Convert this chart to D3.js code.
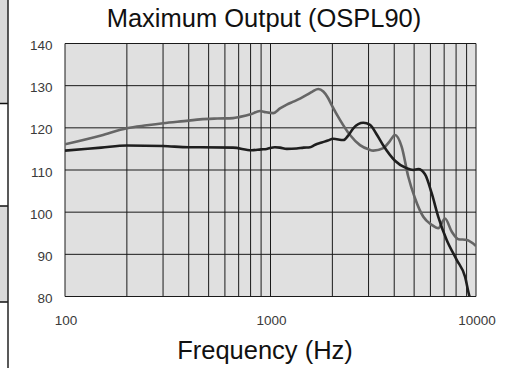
<!DOCTYPE html>
<html><head><meta charset="utf-8">
<script src="https://cdn.jsdelivr.net/npm/d3@7"></script>
<style>body{margin:0;background:#fff}svg{display:block}</style>
</head><body>
<script>
// Data
const grayFreq = [100,150,200,250,300,400,454,550,657,710,800,889,950,1032,1112,1200,1291,1400,1500,1600,1708,1807,1900,1985,2178,2437,2726,3000,3164,3540,3800,4035,4350,4683,5049,5540,6086,6553,7065,7616,8201,9012,10000];
const grayVals = [116.1,118.2,119.9,120.6,121.1,121.7,122.0,122.2,122.3,122.6,123.2,124.0,123.7,123.5,124.6,125.5,126.2,127.0,127.8,128.6,129.2,128.6,127.2,125.4,121.9,118.3,115.9,114.9,114.6,115.2,116.8,118.3,115.5,108.4,103.3,98.9,97.0,96.2,98.5,95.4,93.6,93.4,92.0];
const blackFreq = [100,150,200,300,400,454,657,810,900,958,1050,1112,1200,1341,1450,1557,1650,1775,1900,2020,2261,2400,2528,2829,3050,3300,3540,4035,4600,4953,5238,5646,6086,6553,7200,8055,8843,9300,9600];
const blackVals = [114.6,115.3,115.8,115.7,115.4,115.4,115.3,114.7,114.9,115.0,115.4,115.3,115.0,115.1,115.3,115.4,116.0,116.5,117.0,117.4,117.1,118.3,119.9,121.2,120.7,118.3,115.8,112.2,110.4,110.0,110.2,109.0,104.5,98.9,93.4,88.7,84.7,80.0,78.5];
const yTicks = [80,90,100,110,120,130,140];
const xTickLabels = [100,1000,10000];
const titleText = "Maximum Output (OSPL90)";
const xLabel = "Frequency (Hz)";

const W = 515, H = 368;
const svg = d3.select("body").append("svg").attr("width", W).attr("height", H);

// left partial panel decoration
svg.append("rect").attr("x",0).attr("y",0).attr("width",8).attr("height",103.5).attr("fill","#d9d9d9");
svg.append("rect").attr("x",0).attr("y",206).attr("width",8).attr("height",96).attr("fill","#d9d9d9");
[103.5,206,302].forEach(y=>svg.append("line").attr("x1",0).attr("x2",8).attr("y1",y).attr("y2",y).attr("stroke","#111").attr("stroke-width",1.5));
svg.append("line").attr("x1",8).attr("x2",8).attr("y1",0).attr("y2",H).attr("stroke","#222").attr("stroke-width",1.5);

const x = d3.scaleLog().domain([100,10000]).range([65,476]);
const y = d3.scaleLinear().domain([80,140]).range([296.5,43.5]);

svg.append("rect").attr("x",65).attr("y",43.5).attr("width",411).attr("height",253).attr("fill","#e0e0e0");

// grid
const vGrid = [];
for (let d=100; d<10000; d*=10) for (let k=1;k<=10;k++) vGrid.push(d*k);
const g = svg.append("g");
g.selectAll("line.v").data([...new Set(vGrid)]).join("line").attr("class","v")
 .attr("x1",d=>x(d)).attr("x2",d=>x(d)).attr("y1",y(140)).attr("y2",y(80))
 .attr("stroke","#1a1a1a").attr("stroke-width",1);
g.selectAll("line.h").data(yTicks).join("line").attr("class","h")
 .attr("x1",x(100)).attr("x2",x(10000)).attr("y1",d=>y(d)).attr("y2",d=>y(d))
 .attr("stroke","#1a1a1a").attr("stroke-width",1);

// clip
svg.append("clipPath").attr("id","clip").append("rect").attr("x",65).attr("y",43.5).attr("width",411).attr("height",253);

const line = d3.line().x(d=>x(d[0])).y(d=>y(d[1])).curve(d3.curveMonotoneX);
svg.append("path").datum(grayFreq.map((f,i)=>[f,grayVals[i]])).attr("d",line)
 .attr("fill","none").attr("stroke","#666").attr("stroke-width",2.6).attr("clip-path","url(#clip)");
svg.append("path").datum(blackFreq.map((f,i)=>[f,blackVals[i]])).attr("d",line)
 .attr("fill","none").attr("stroke","#1e1e1e").attr("stroke-width",2.6).attr("clip-path","url(#clip)");

const font = "Liberation Sans, Arial, Helvetica, sans-serif";
svg.selectAll("text.yt").data(yTicks).join("text").attr("class","yt")
 .attr("x",52.5).attr("y",d=>y(d)+6.5).attr("text-anchor","end")
 .attr("font-family",font).attr("font-size",13.5).attr("fill","#3a3a3a").text(d=>d);
svg.selectAll("text.xt").data(xTickLabels).join("text").attr("class","xt")
 .attr("x",d=>x(d)+1).attr("y",325).attr("text-anchor","middle")
 .attr("font-family",font).attr("font-size",13.5).attr("fill","#3a3a3a").text(d=>d);

svg.append("text").attr("x",264).attr("y",27).attr("text-anchor","middle")
 .attr("font-family",font).attr("font-size",25.5).attr("fill","#111").text(titleText);
svg.append("text").attr("x",265).attr("y",359).attr("text-anchor","middle")
 .attr("font-family",font).attr("font-size",25.5).attr("fill","#111").text(xLabel);
</script>
</body></html>
